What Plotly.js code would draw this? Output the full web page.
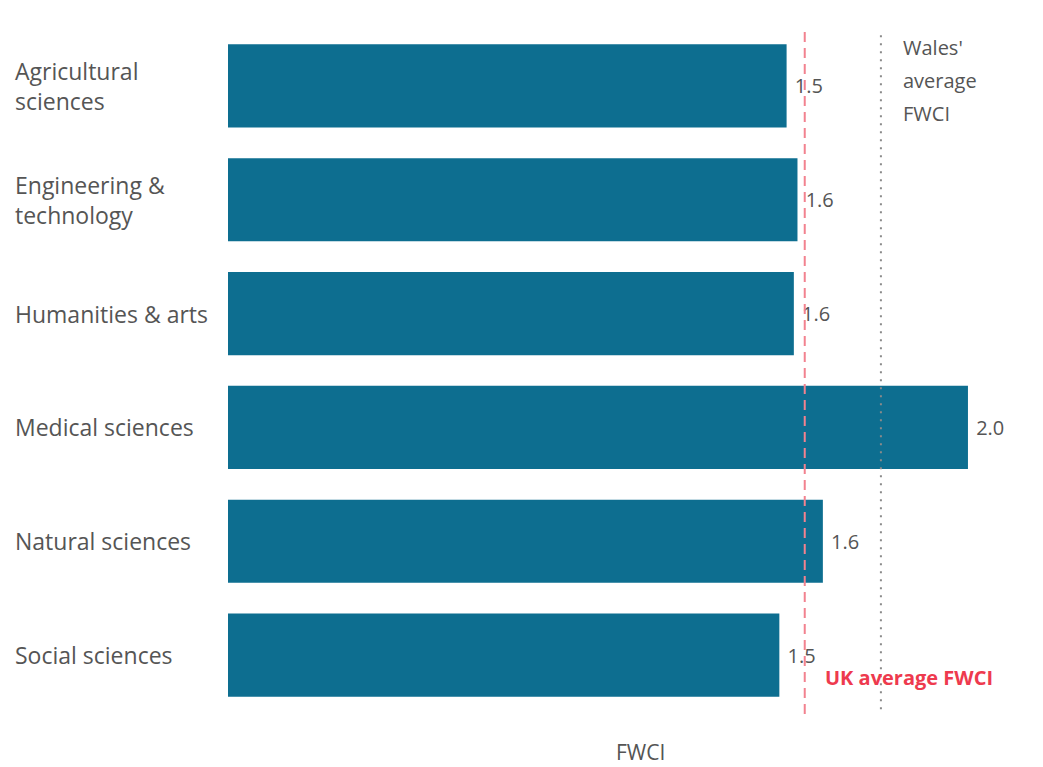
<!DOCTYPE html>
<html>
<head>
<meta charset="utf-8">
<script src="https://cdn.plot.ly/plotly-3.0.1.min.js"></script>
<style>
  html, body { margin: 0; padding: 0; background: #ffffff; }
  #chart { width: 1043px; height: 767px; }
</style>
</head>
<body>
<div id="chart"></div>
<script>
// Field-weighted citation impact by subject area
const categories = [
  "Agricultural sciences",
  "Engineering & technology",
  "Humanities & arts",
  "Medical sciences",
  "Natural sciences",
  "Social sciences"
];
const categoryLabels = [
  "Agricultural<br>sciences",
  "Engineering &<br>technology",
  "Humanities & arts",
  "Medical sciences",
  "Natural sciences",
  "Social sciences"
];
const fwci = [1.54, 1.57, 1.56, 2.04, 1.64, 1.52];
const ukAverage = 1.59;
const walesAverage = 1.80;
const walesNoteLines = ["Wales'", "average", "FWCI"];

const textFont = "'Open Sans', Lato, sans-serif";
const grey = "#555555";

const bar = {
  type: "bar",
  orientation: "h",
  y: categories,
  x: fwci,
  marker: { color: "#0d6e90" },
  texttemplate: "\u00a0%{x:.1f}",
  textposition: "outside",
  cliponaxis: false,
  textfont: { family: textFont, size: 20, color: grey },
  hoverinfo: "skip"
};

const plotLeft = 228, plotRight = 1026, plotTop = 29, plotBottom = 712;
const plotW = plotRight - plotLeft;
const plotH = plotBottom - plotTop;
const paperY = py => (plotBottom - py) / plotH;

const annotations = categories.map((c, i) => ({
  xref: "paper", yref: "y",
  x: (13 - plotLeft) / plotW, y: c,
  xanchor: "left", yanchor: "middle", align: "left",
  text: categoryLabels[i],
  showarrow: false,
  font: { family: textFont, size: 23, color: grey }
}));

// note beside the Wales average line, one line per annotation for wider leading
walesNoteLines.forEach((line, i) => {
  annotations.push({
    xref: "x", yref: "paper",
    x: walesAverage, y: paperY(48 + i * 32.5),
    xshift: 20, xanchor: "left", yanchor: "middle",
    text: line,
    showarrow: false,
    font: { family: textFont, size: 20, color: grey }
  });
});
annotations.push({
  xref: "x", yref: "paper",
  x: ukAverage, y: paperY(677),
  xshift: 18, xanchor: "left", yanchor: "middle",
  text: "<b>UK average FWCI</b>",
  showarrow: false,
  font: { family: textFont, size: 20, color: "#ee3a4e" }
});
annotations.push({
  xref: "paper", yref: "paper",
  x: (640 - plotLeft) / plotW, y: paperY(752),
  xanchor: "center", yanchor: "middle",
  text: "FWCI",
  showarrow: false,
  font: { family: textFont, size: 21, color: grey }
});

const layout = {
  width: 1043,
  height: 767,
  margin: { l: plotLeft, r: 1043 - plotRight, t: plotTop, b: 767 - plotBottom },
  paper_bgcolor: "#ffffff",
  plot_bgcolor: "#ffffff",
  showlegend: false,
  bargap: 0.27,
  xaxis: {
    range: [0, 2.2],
    showgrid: false, zeroline: false, showline: false,
    showticklabels: false, ticks: ""
  },
  yaxis: {
    autorange: "reversed",
    showgrid: false, zeroline: false, showline: false,
    showticklabels: false, ticks: ""
  },
  shapes: [
    {
      type: "line", xref: "x", yref: "paper",
      x0: ukAverage, x1: ukAverage, y0: -0.003, y1: 0.999,
      line: { color: "#f2828f", width: 2, dash: "10px,6px" }
    },
    {
      type: "line", xref: "x", yref: "paper",
      x0: walesAverage, x1: walesAverage, y0: 0.004, y1: 0.999,
      line: { color: "#8a8a8a", width: 2, dash: "2px,6px" }
    }
  ],
  annotations: annotations
};

Plotly.newPlot("chart", [bar], layout, { displayModeBar: false, staticPlot: true });
</script>
</body>
</html>
